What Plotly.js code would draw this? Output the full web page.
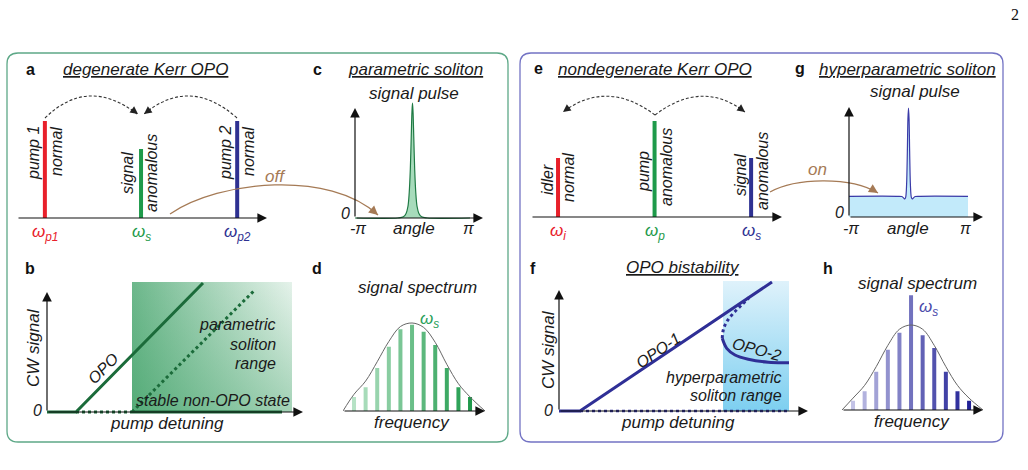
<!DOCTYPE html>
<html>
<head>
<meta charset="utf-8">
<script src="https://cdn.plot.ly/plotly-3.0.1.min.js"></script>
<style>html,body{margin:0;padding:0;background:#fff;}#chart{width:1028px;height:470px;}</style>
</head>
<body>
<div id="chart"></div>
<script>
// ---------------- DATA ----------------
// Panel a: degenerate Kerr OPO spectral lines
const aLabels = ['ω_p1', 'ω_s', 'ω_p2'];
const aPositions = [-1, 0, 1];
const aHeights = [97, 69, 97];
// Panel e: nondegenerate Kerr OPO spectral lines
const eLabels = ['ω_i', 'ω_p', 'ω_s'];
const ePositions = [-1, 0, 1];
const eHeights = [59, 96, 59];

// Panel b: CW signal vs pump detuning (degenerate)
const bOpoX = [0, 1.16, 6.24];
const bOpoY = [0, 0, 9.92];
const bNonOpoDotX = [1.16, 3.4];
const bNonOpoDotY = [0, 0];
const bNonOpoX = [3.4, 9.4];
const bNonOpoY = [0, 0];
const bUnstableX = [3.4, 8.32];
const bUnstableY = [0, 9.4];
const bRangeX = [3.4, 9.8];
const bRangeY = [0, 10];

// Panel f: OPO bistability
const fOpo1X = [0, 0.84, 8.52];
const fOpo1Y = [0, 0, 9.92];
const fZeroDotX = [0.84, 9.2];
const fZeroDotY = [0, 0];
const fOpo2X = [6.53, 6.71, 7.04, 7.57, 8.37, 9.2];
const fOpo2Y = [5.59, 4.82, 4.31, 3.98, 3.75, 3.72];
const fOpo2UnstX = [6.53, 6.57, 6.71, 6.97, 7.3, 7.6];
const fOpo2UnstY = [5.59, 6.23, 6.87, 7.51, 8.15, 8.72];
const fRangeX = [6.56, 9.2];
const fRangeY = [0, 10];

// Panel c: parametric soliton signal pulse
const cAngle = [-3.1416, -0.8, -0.5, -0.35, -0.25, -0.18, -0.12, -0.07, -0.03, 0, 0.03, 0.07, 0.12, 0.18, 0.25, 0.35, 0.5, 0.8, 3.1416];
const cPulse = [0, 0, 0.01, 0.04, 0.1, 0.22, 0.42, 0.7, 0.92, 1, 0.92, 0.7, 0.42, 0.22, 0.1, 0.04, 0.01, 0, 0];
// Panel g: hyperparametric soliton signal pulse
const gAngle = [-3.1416, -0.6, -0.35, -0.26, -0.2, -0.15, -0.1, -0.06, -0.03, 0, 0.03, 0.06, 0.1, 0.15, 0.2, 0.26, 0.35, 0.6, 3.1416];
const gPulse = [0.19, 0.19, 0.188, 0.175, 0.165, 0.18, 0.3, 0.6, 0.9, 1, 0.9, 0.6, 0.3, 0.18, 0.165, 0.175, 0.188, 0.19, 0.19];

// Panel d: signal spectrum (comb lines + envelope)
const dModes = [-5, -4, -3, -2, -1, 0, 1, 2, 3, 4, 5];
const dPower = [0.16, 0.27, 0.49, 0.73, 0.93, 0.98, 0.90, 0.75, 0.49, 0.27, 0.16];
const dEnvX = [-5.95, -5, -4, -3, -2, -1, 0, 1, 2, 3, 4, 5, 6.29];
const dEnvY = [0, 0.19, 0.34, 0.56, 0.79, 0.96, 1.0, 0.95, 0.78, 0.53, 0.31, 0.16, 0];
// Panel h: signal spectrum
const hModes = [-5, -4, -3, -2, -1, 0, 1, 2, 3, 4, 5];
const hPower = [0.11, 0.22, 0.45, 0.71, 0.91, 1.35, 0.88, 0.73, 0.45, 0.22, 0.11];
const hEnvX = [-5.95, -5, -4, -3, -2, -1, 0, 1, 2, 3, 4, 5, 6.2];
const hEnvY = [0, 0.14, 0.29, 0.51, 0.76, 0.95, 1.0, 0.95, 0.76, 0.51, 0.29, 0.14, 0];

// ---------------- STYLE ----------------
const W = 1028, H = 470;
const FONT = 'Liberation Sans, Arial, sans-serif';
const RED = '#e8202a', GREEN = '#1e9a4a', NAVY = '#2e3192';
const DKGREEN = '#1b6b3a', BROWN = '#a57a55';
const BOXGREEN = '#5da887', BOXPURPLE = '#7373c4';
const LINEBLUE = '#2f2f96';
const dColors = ['#b6e2c5', '#a7dbb9', '#98d4ad', '#89cda1', '#7ac695', '#6bbf89', '#5cb87d', '#4db171', '#3eaa65', '#2fa359', '#20994c'];
const hColors = ['#c2c2e6', '#b2b2de', '#a2a2d6', '#9292ce', '#8282c6', '#7272be', '#6262b6', '#5252ae', '#4242a6', '#32329e', '#222296'];

const px = x => x / W;
const py = y => 1 - y / H;

const layout = {
  width: W, height: H,
  margin: {l: 0, r: 0, t: 0, b: 0},
  paper_bgcolor: '#fff', plot_bgcolor: 'rgba(0,0,0,0)',
  showlegend: false,
  font: {family: FONT, color: '#222'},
  shapes: [], annotations: []
};

// panel axes: x pixel [left,right] for xr; y: pixel of y=0 and pixels per unit
const panels = {
  a: {n: 1, xp: [17, 267], xr: [-1.29, 1.31], y0: 218, ppu: 1, ymax: 110},
  c: {n: 2, xp: [355, 470], xr: [-Math.PI, Math.PI], y0: 218, ppu: 115, ymax: 1.1},
  b: {n: 3, xp: [47, 297], xr: [0, 10], y0: 412, ppu: 13, ymax: 10.6},
  d: {n: 4, xp: [343, 485], xr: [-5.95, 6.29], y0: 411, ppu: 88, ymax: 1.15},
  e: {n: 5, xp: [531, 782], xr: [-1.28, 1.32], y0: 217, ppu: 1, ymax: 110},
  g: {n: 6, xp: [849, 968], xr: [-Math.PI, Math.PI], y0: 217, ppu: 109, ymax: 1.1},
  f: {n: 7, xp: [559, 809], xr: [0, 10], y0: 411, ppu: 13, ymax: 10.6},
  h: {n: 8, xp: [842, 983], xr: [-5.95, 6.2], y0: 410, ppu: 85, ymax: 1.5}
};
const ax = {};
for (const k in panels) {
  const p = panels[k];
  const xn = p.n === 1 ? 'xaxis' : 'xaxis' + p.n;
  const yn = p.n === 1 ? 'yaxis' : 'yaxis' + p.n;
  const xid = p.n === 1 ? 'x' : 'x' + p.n;
  const yid = p.n === 1 ? 'y' : 'y' + p.n;
  const ymin = -0.02 * p.ymax;
  const yb = p.y0 - ymin * p.ppu, yt = p.y0 - p.ymax * p.ppu;
  layout[xn] = {domain: [px(p.xp[0]), px(p.xp[1])], range: p.xr, visible: false, fixedrange: true, anchor: yid};
  layout[yn] = {domain: [py(yb), py(yt)], range: [ymin, p.ymax], visible: false, fixedrange: true, anchor: xid};
  ax[k] = {x: xid, y: yid, xpx: (p.xp[1] - p.xp[0]) / (p.xr[1] - p.xr[0])};
}

const traces = [];
function line(k, x, y, color, width, dash, extra) {
  traces.push(Object.assign({type: 'scatter', mode: 'lines', x: x, y: y, xaxis: ax[k].x, yaxis: ax[k].y,
    line: {color: color, width: width, dash: dash || 'solid'}, hoverinfo: 'skip', cliponaxis: false}, extra || {}));
}
function bars(k, x, y, colors, widthPx) {
  traces.push({type: 'bar', x: x, y: y, xaxis: ax[k].x, yaxis: ax[k].y, width: widthPx / ax[k].xpx,
    marker: {color: colors, line: {width: 0}}, hoverinfo: 'skip'});
}
function rectX(x0, x1) { return [x0, x1, x1, x0, x0]; }
function rectY(y0, y1) { return [y0, y0, y1, y1, y0]; }

// ---- panel a / e lines
bars('a', aPositions, aHeights, [RED, GREEN, NAVY], 4);
bars('e', ePositions, eHeights, [RED, GREEN, NAVY], 4);

// ---- panel c pulse
line('c', cAngle, cPulse, '#1f7a44', 1.2, 'solid', {fill: 'tozeroy', fillcolor: 'rgba(120,200,150,0.65)', line: {shape: 'spline', color: '#1f7a44', width: 1.2}});
// ---- panel g pulse
line('g', gAngle, gPulse, LINEBLUE, 1.2, 'solid', {fill: 'tozeroy', fillcolor: '#c2eafa', line: {shape: 'spline', color: '#3a3aa8', width: 1.2, smoothing: 0.8}});

// ---- panel b
line('b', rectX(bRangeX[0], bRangeX[1]), rectY(bRangeY[0], bRangeY[1]), 'rgba(0,0,0,0)', 0, 'solid',
  {fill: 'toself', fillgradient: {type: 'horizontal', colorscale: [[0, 'rgba(40,150,85,0.68)'], [1, 'rgba(40,150,85,0.12)']]}});
line('b', rectX(bRangeX[0], bRangeX[1]), rectY(bRangeY[0], bRangeY[1]), 'rgba(0,0,0,0)', 0, 'solid',
  {fill: 'toself', fillgradient: {type: 'vertical', colorscale: [[0, 'rgba(40,150,85,0.35)'], [1, 'rgba(40,150,85,0.0)']]}});
line('b', bNonOpoDotX, bNonOpoDotY, DKGREEN, 3, 'dot');
line('b', bUnstableX, bUnstableY, DKGREEN, 3, 'dot');
line('b', bNonOpoX, bNonOpoY, DKGREEN, 3);
line('b', bOpoX, bOpoY, DKGREEN, 3);

// ---- panel f
line('f', rectX(fRangeX[0], fRangeX[1]), rectY(fRangeY[0], fRangeY[1]), 'rgba(0,0,0,0)', 0, 'solid',
  {fill: 'toself', fillgradient: {type: 'vertical', colorscale: [[0, '#7dcff0'], [1, '#dff2fb']]}});
line('f', fZeroDotX, fZeroDotY, LINEBLUE, 2.6, 'dot');
line('f', fOpo2UnstX, fOpo2UnstY, LINEBLUE, 3, 'dot', {line: {color: LINEBLUE, width: 3, dash: 'dot', shape: 'spline'}});
line('f', fOpo2X, fOpo2Y, LINEBLUE, 3, 'solid', {line: {color: LINEBLUE, width: 3, shape: 'spline'}});
line('f', fOpo1X, fOpo1Y, LINEBLUE, 3);

// ---- panel d / h spectra
bars('d', dModes, dPower, dColors, 4);
line('d', dEnvX, dEnvY, '#666', 1, 'solid', {line: {color: '#666', width: 1, shape: 'spline'}});
bars('h', hModes, hPower, hColors, 4);
line('h', hEnvX, hEnvY, '#666', 1, 'solid', {line: {color: '#666', width: 1, shape: 'spline'}});

// ---------------- DECORATION ----------------
function roundRect(x0, y0, x1, y1, r, color) {
  const P = (x, y) => px(x) + ' ' + py(y);
  const path = 'M ' + P(x0 + r, y0) + ' L ' + P(x1 - r, y0) + ' Q ' + P(x1, y0) + ' ' + P(x1, y0 + r) +
    ' L ' + P(x1, y1 - r) + ' Q ' + P(x1, y1) + ' ' + P(x1 - r, y1) + ' L ' + P(x0 + r, y1) +
    ' Q ' + P(x0, y1) + ' ' + P(x0, y1 - r) + ' L ' + P(x0, y0 + r) + ' Q ' + P(x0, y0) + ' ' + P(x0 + r, y0) + ' Z';
  layout.shapes.push({type: 'path', xref: 'paper', yref: 'paper', path: path, line: {color: color, width: 1.3}});
}
roundRect(7, 53, 508, 442, 11, BOXGREEN);
roundRect(520, 53, 1003, 442, 11, BOXPURPLE);

function curve(pts, color, dash, width) {
  const P = (p) => px(p[0]) + ' ' + py(p[1]);
  let path = 'M ' + P(pts[0]);
  if (pts.length === 3) path += ' Q ' + P(pts[1]) + ' ' + P(pts[2]);
  else path += ' C ' + P(pts[1]) + ' ' + P(pts[2]) + ' ' + P(pts[3]);
  layout.shapes.push({type: 'path', xref: 'paper', yref: 'paper', path: path, line: {color: color, width: width || 1.2, dash: dash || 'solid'}});
}
function arrow(x0, y0, x1, y1, color, size, width) {
  layout.annotations.push({xref: 'paper', yref: 'paper', x: px(x1), y: py(y1), ax: x0 - x1, ay: y0 - y1,
    showarrow: true, arrowhead: 2, arrowsize: size || 1.6, arrowwidth: width || 1.2, arrowcolor: color || '#111', standoff: 0, text: ''});
}
// dashed arcs (panel a, e)
const DASH = '3px,2px';
curve([[45, 118], [88, 76], [137, 114]], '#333', DASH, 1.1);
arrow(130, 108, 138, 114, '#222', 1.4, 1.1);
curve([[237, 118], [190, 76], [144, 114]], '#333', DASH, 1.1);
arrow(152, 108, 144, 114, '#222', 1.4, 1.1);
curve([[655, 115], [607, 79], [563, 112]], '#333', DASH, 1.1);
arrow(571, 106, 563, 112, '#222', 1.4, 1.1);
curve([[655, 115], [702, 79], [745, 112]], '#333', DASH, 1.1);
arrow(737, 106, 745, 112, '#222', 1.4, 1.1);
// brown transition arcs
curve([[170, 214], [220, 180], [330, 170], [378, 215]], BROWN, 'solid', 1.3);
arrow(370, 208, 378, 215, BROWN, 1.4, 1.3);
curve([[770, 192], [795, 178], [850, 176], [878, 193]], BROWN, 'solid', 1.3);
arrow(870, 188, 878, 193, BROWN, 1.4, 1.3);

// axis arrows
arrow(17, 218, 267, 218);
arrow(355, 218, 355, 108); arrow(355, 218, 483, 218);
arrow(47, 412, 47, 292); arrow(47, 412, 303, 412);
arrow(343, 411, 485, 411);
arrow(531, 217, 782, 217);
arrow(849, 217, 849, 107); arrow(849, 217, 983, 217);
arrow(559, 411, 559, 290); arrow(559, 411, 808, 411);
arrow(842, 410, 983, 410);

// text
function txt(x, y, s, opts) {
  opts = opts || {};
  layout.annotations.push({xref: 'paper', yref: 'paper', x: px(x), y: py(y), text: s, showarrow: false,
    xanchor: opts.xa || 'center', yanchor: opts.ya || 'middle', textangle: opts.angle || 0,
    font: {family: opts.family || FONT, size: opts.size || 16, color: opts.color || '#1a1a1a',
      style: opts.upright ? 'normal' : 'italic', weight: opts.bold ? 'bold' : 'normal'}});
}
function omega(label) {
  const parts = label.split('_');
  return 'ω<sub>' + parts[1] + '</sub>';
}
// panel letters
[['a', 30, 69], ['c', 317, 69], ['b', 30, 268], ['d', 317, 268], ['e', 538, 68], ['g', 800, 68], ['f', 533, 268], ['h', 828, 268]]
  .forEach(l => txt(l[1], l[2], '<b>' + l[0] + '</b>', {size: 16, upright: true, bold: true, color: '#111'}));
// titles
txt(145, 69, '<u>degenerate Kerr OPO</u>', {size: 17});
txt(415, 69, '<u>parametric soliton</u>', {size: 17});
txt(655, 69, '<u>nondegenerate Kerr OPO</u>', {size: 17});
txt(907, 69, '<u>hyperparametric soliton</u>', {size: 17});
txt(683, 267, '<u>OPO bistability</u>', {size: 17});
txt(414, 93, 'signal pulse', {size: 17});
txt(915, 91, 'signal pulse', {size: 17});
txt(417, 287, 'signal spectrum', {size: 17});
txt(917, 283, 'signal spectrum', {size: 17});

// panel a labels
txt(33, 153, 'pump 1', {angle: -90, size: 16});
txt(56, 152, 'normal', {angle: -90, size: 16});
txt(128, 173, 'signal', {angle: -90, size: 16});
txt(152, 173, 'anomalous', {angle: -90, size: 16});
txt(225, 153, 'pump 2', {angle: -90, size: 16});
txt(248, 152, 'normal', {angle: -90, size: 16});
const aCols = [RED, GREEN, NAVY];
[45, 141, 237].forEach((x, i) => txt(x, 233, omega(aLabels[i]), {size: 17, color: aCols[i]}));
txt(275, 177, 'off', {size: 17, color: BROWN});

// panel e labels
txt(547, 180, 'idler', {angle: -90, size: 16});
txt(568, 178, 'normal', {angle: -90, size: 16});
txt(643, 172, 'pump', {angle: -90, size: 16});
txt(666, 167, 'anomalous', {angle: -90, size: 16});
txt(740, 175, 'signal', {angle: -90, size: 16});
txt(762, 171, 'anomalous', {angle: -90, size: 16});
[558, 655, 751].forEach((x, i) => txt(x, 232, omega(eLabels[i]), {size: 17, color: aCols[i]}));
txt(817, 170, 'on', {size: 17, color: BROWN});

// panel c / g axis labels
txt(345, 213, '0', {size: 16});
txt(358, 228, '-π', {size: 16});
txt(414, 228, 'angle', {size: 17});
txt(468, 228, 'π', {size: 16});
txt(839, 212, '0', {size: 16});
txt(851, 228, '-π', {size: 16});
txt(908, 228, 'angle', {size: 17});
txt(965, 228, 'π', {size: 16});

// panel b labels
txt(37, 410, '0', {size: 16});
txt(33, 348, 'CW signal', {angle: -90, size: 17});
txt(167, 423, 'pump detuning', {size: 17});
txt(103, 368, 'OPO', {angle: -45, size: 16});
txt(278, 324, 'parametric', {xa: 'right', size: 16});
txt(278, 344, 'soliton', {xa: 'right', size: 16});
txt(278, 363, 'range', {xa: 'right', size: 16});
txt(213, 400, 'stable non-OPO state', {size: 16});

// panel d labels
txt(429, 320, 'ω<sub>s</sub>', {size: 17, color: '#2aa05a'});
txt(412, 422, 'frequency', {size: 17});

// panel f labels
txt(548, 410, '0', {size: 16});
txt(548, 350, 'CW signal', {angle: -90, size: 17});
txt(678, 422, 'pump detuning', {size: 17});
txt(658, 350, 'OPO-1', {angle: -34, size: 16});
txt(757, 349, 'OPO-2', {angle: 15, size: 16});
txt(784, 377, 'hyperparametric', {xa: 'right', size: 16});
txt(784, 395, 'soliton range', {xa: 'right', size: 16});

// panel h labels
txt(928, 308, 'ω<sub>s</sub>', {size: 17, color: '#4a4aaa'});
txt(912, 421, 'frequency', {size: 17});

// page number
txt(1015, 15, '2', {size: 16, upright: true, family: 'Liberation Serif, DejaVu Serif, serif', color: '#111'});

Plotly.newPlot('chart', traces, layout, {staticPlot: true, displayModeBar: false});
</script>
</body>
</html>
